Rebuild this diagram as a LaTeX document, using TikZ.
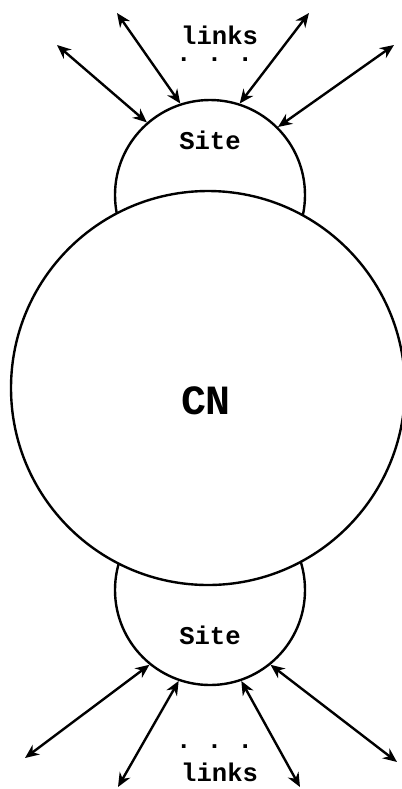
\documentclass[tikz,border=0pt]{standalone}
\usepackage{fontspec}
\setmonofont{Liberation Mono}
\usetikzlibrary{arrows.meta}
\tikzset{
  site/.style={draw, circle, line width=1.2pt, minimum size=95pt, inner sep=0pt},
  lbl/.style={font=\ttfamily\bfseries\fontsize{12.8}{14}\selectfont, inner sep=0pt}
}
\begin{document}
\begin{tikzpicture}[>={Stealth[length=7pt,width=6pt]}, x=0.5pt, y=-0.5pt, line width=1.2pt]
\useasboundingbox (0,0) rectangle (402,789);
% the two sites and the core network over them
\node[site](top) at (210,195){};
\node[site](bot) at (210,590){};
\node[draw, circle, fill=white, line width=1.2pt, minimum size=197pt, inner sep=0pt](cn) at (208,388){};
\node[font=\ttfamily\bfseries\fontsize{20.8}{24}\selectfont, inner sep=0pt](cnl) at (206,401){CN};
\node[lbl](topl) at (210,140){Site};
\node[lbl](botl) at (210,635){Site};
\node[lbl, align=left, anchor=north west, font=\ttfamily\bfseries\fontsize{12.8}{8.5}\selectfont](tlinks) at (180,25){links\\\kern-2.5pt. . .};
\node[lbl, align=left, anchor=south west, font=\ttfamily\bfseries\fontsize{12.8}{16.5}\selectfont](blinks) at (180,783){\kern-2.5pt. . .\\links};
% links
\coordinate (t1) at (57,45);
\coordinate (t2) at (117,13);
\coordinate (t3) at (309,13);
\coordinate (t4) at (394,45);
\coordinate (b1) at (25,758);
\coordinate (b2) at (118,787);
\coordinate (b3) at (300,787);
\coordinate (b4) at (397,762);
\draw[<->](t1)--(top.131);
\draw[<->](t2)--(top.108);
\draw[<->](t3)--(top.72);
\draw[<->](t4)--(top.45);
\draw[<->](b1)--(bot.-129);
\draw[<->](b2)--(bot.-109);
\draw[<->](b3)--(bot.-71);
\draw[<->](b4)--(bot.-51);
\end{tikzpicture}
\end{document}
